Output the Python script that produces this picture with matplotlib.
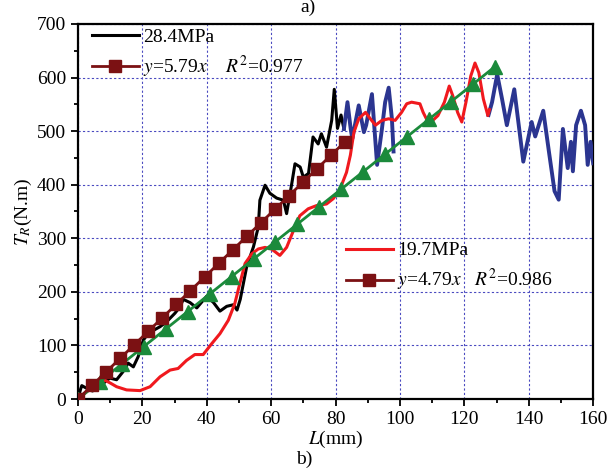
import matplotlib
matplotlib.use("Agg")
import matplotlib.pyplot as plt
import numpy as np
from matplotlib.ticker import MultipleLocator

plt.rcParams['font.family'] = ['Liberation Serif', 'DejaVu Serif']
plt.rcParams['mathtext.fontset'] = 'stix'

# 28.4 MPa test, first part (black)
l_284 = [0, 0.8, 1.2, 2.4, 4.5, 6.6, 8.4, 9.9, 12, 14, 15.6, 17.2, 18.7, 20.3, 21.8, 23.4, 25.5,
         27.5, 30.1, 31.7, 32.7, 34.8, 36.9, 40, 42.1, 44.1, 46.2, 48.3, 49.4, 50.4, 52.4, 54.5,
         56.0, 56.5, 58.1, 59.6, 61.7, 63.8, 64.8, 66.4, 67.4, 69, 70, 71.6, 73, 74.6, 75.6, 77.2,
         78.8, 79.6, 80.6, 81.7, 82.6]
t_284 = [0, 18, 25, 21, 15, 21, 32, 39, 36, 51, 67, 60, 79, 110, 122, 128, 135,
         144, 160, 172, 186, 180, 170, 192, 180, 164, 173, 176, 166, 186, 247, 284,
         321, 371, 399, 384, 375, 371, 346, 402, 439, 433, 414, 421, 489, 476, 495, 470,
         520, 578, 505, 530, 504]

# 28.4 MPa test, continued (blue) - runs under the red curve from 98 to 127.5 mm
l_cont1 = [82.6, 83.7, 84.7, 85.2, 87.2, 88.8, 89.5, 91.3, 92.9, 94.4, 95.4, 96.5, 97.5, 98]
t_cont1 = [504, 554, 504, 486, 548, 498, 511, 569, 437, 504, 554, 581, 523, 462]
l_cont2 = [127.5, 128.6, 130.2, 131.7, 133.2, 135.5, 138.3, 140.9, 142.0, 144.5, 146.3, 148,
           149.3, 150.6, 152.1, 153.1, 153.7, 154.7, 156.2, 157.5, 158.3, 159.2, 160]
t_cont2 = [530, 554, 606, 560, 511, 578, 443, 517, 490, 538, 460, 388,
           372, 504, 431, 480, 425, 511, 538, 511, 437, 480, 440]

# 19.7 MPa test (red)
l_197 = [0, 3, 6, 8.4, 10, 12, 15.1, 19.3, 22.4, 25.5, 28.6, 31.1, 33.7, 36.3, 38.9, 41.5, 44.1,
         46.7, 48.7, 50.3, 51.9, 54, 56, 58.1, 60.1, 62.7, 64.8, 66.9, 68.9, 71.5, 74.1, 77.2,
         79.3, 81.4, 83.4, 84.6, 85.7, 87.2, 89.3, 90.8, 92.4, 94.4, 96.5, 98.5, 100.5, 102.1,
         103.6, 106.2, 107.2, 108.2, 110.2, 111.8, 113.8, 115.3, 116.4, 117.9, 119.2, 120.5,
         122, 123.3, 124.5, 125.9, 127.3, 127.8]
t_197 = [0, 15, 28, 35, 30, 23, 17, 15.7, 23, 41.5, 54, 57, 72, 83, 83, 103, 122,
         147, 178, 216, 253, 271, 280, 283, 280, 268, 283, 314, 342, 355, 361, 364,
         374, 392, 423, 455, 498, 523, 535, 523, 511, 520, 523, 520, 535, 551,
         554, 551, 535, 523, 520, 529, 554, 584, 566, 535, 517, 554,
         603, 627, 609, 560, 529, 540]

# linear fits
slope_284, r2_284 = 5.79, 0.977
slope_197, r2_197 = 4.79, 0.986
fit_l_284 = np.linspace(0, 83, 20)
fit_l_197 = np.linspace(0, 129.5, 20)

fig = plt.figure(figsize=(6.09, 4.73), dpi=100)
ax = fig.add_axes([0.128, 0.1564, 0.846, 0.793])

h284, = ax.plot(l_284, t_284, color='black', lw=2.2, zorder=3)
ax.plot(l_cont1, t_cont1, color='#2b3590', lw=2.8, zorder=3)
ax.plot(l_cont2, t_cont2, color='#2b3590', lw=2.8, zorder=3)
h197, = ax.plot(l_197, t_197, color='#f0191e', lw=2.2, zorder=4)
ax.plot(fit_l_197, slope_197 * fit_l_197, color='#1b8a3b', lw=2, marker='^',
        markersize=10, zorder=5)
hfit, = ax.plot(fit_l_284, slope_284 * fit_l_284, color='#7b1113', lw=2, marker='s',
                markersize=9, zorder=6)

ax.set_xlim(0, 160)
ax.set_ylim(0, 700)
ax.xaxis.set_major_locator(MultipleLocator(20))
ax.xaxis.set_minor_locator(MultipleLocator(10))
ax.yaxis.set_major_locator(MultipleLocator(100))
ax.yaxis.set_minor_locator(MultipleLocator(50))
ax.tick_params(which='major', direction='out', length=5, width=1.3, labelsize=14)
ax.tick_params(which='minor', direction='out', length=3, width=1.3)
for s in ax.spines.values():
    s.set_linewidth(1.6)
ax.grid(True, which='major', color='#4a4ac0', linestyle=(0, (2, 2)), lw=0.8, zorder=0)
ax.set_axisbelow(True)

ax.set_xlabel('$L$(mm)', fontsize=14, labelpad=1)
ax.set_ylabel('$T_R$(N.m)', fontsize=14, labelpad=2)

leg1 = ax.legend([h284, hfit], ['28.4MPa', '$y$=5.79$x$    $R^2$=%.3f' % r2_284],
                 loc='upper left', bbox_to_anchor=(0.027, 0.989), frameon=False,
                 fontsize=14, handlelength=2.4, handletextpad=0.25, labelspacing=0.4,
                 borderpad=0, borderaxespad=0)
ax.add_artist(leg1)
ax.legend([h197, hfit], ['19.7MPa', '$y$=4.79$x$   $R^2$=%.3f' % r2_197],
          loc='upper left', bbox_to_anchor=(0.52, 0.419), frameon=False,
          fontsize=14, handlelength=2.4, handletextpad=0.25, labelspacing=0.4,
          borderpad=0, borderaxespad=0)

fig.text(0.506, 0.974, 'a)', fontsize=14, ha='center', va='baseline')
fig.text(0.50, 0.01, 'b)', fontsize=14, ha='center', va='bottom')

fig.savefig('out.png', dpi=100)
